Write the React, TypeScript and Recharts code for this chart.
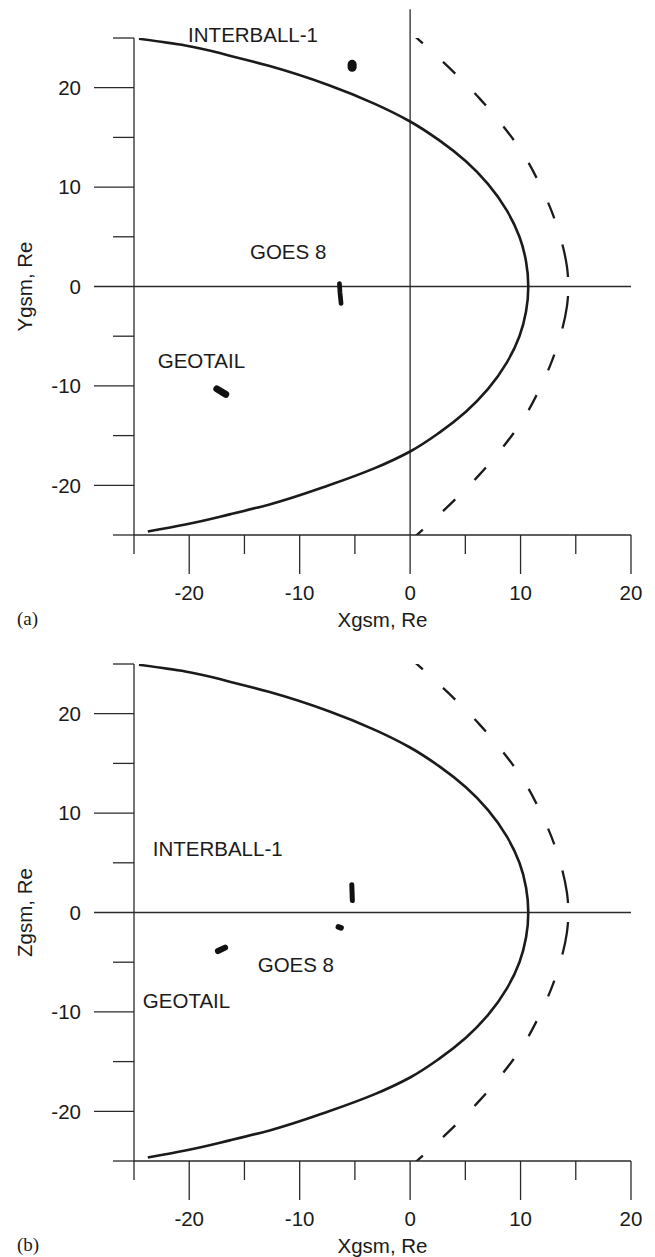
import React from "react";
import { LineChart, Line, XAxis, YAxis, ReferenceLine, ReferenceDot } from "recharts";

// axis ticks (Re)
const X_TICKS = [-25, -20, -15, -10, -5, 0, 5, 10, 15, 20];
const Y_TICKS = [-25, -20, -15, -10, -5, 0, 5, 10, 15, 20, 25];

// magnetopause (solid): bottom-left -> nose -> top-left
const mpX = [-23.75, -20.35, -16.25, -12.8, -7.35, -3.25, 0, 2.65, 5.05, 7.06, 8.78, 9.9, 10.5, 10.7,
  10.5, 9.9, 8.78, 7.06, 5.05, 2.65, 0, -3.25, -7.35, -12.8, -16.25, -20.35, -24.55];
const mpY = [-24.65, -23.95, -22.9, -21.95, -20.0, -18.3, -16.6, -14.7, -12.6, -10.3, -7.6, -5.0, -2.5, 0,
  2.5, 5.0, 7.6, 10.3, 12.6, 14.7, 16.6, 18.4, 20.25, 22.2, 23.2, 24.25, 24.92];

// bow shock (dashed), each half read from the x=0 end towards the nose
const bsUpX = [0, 2.0, 4.2, 6.3, 8.3, 10.1, 11.6, 12.8, 13.7, 14.2, 14.35];
const bsUpY = [25.6, 23.6, 21.3, 18.9, 16.3, 13.6, 10.6, 7.6, 4.6, 2.0, 0];
const bsLoX = [0, 2.0, 4.2, 6.3, 8.3, 10.1, 11.6, 12.8, 13.7, 14.2, 14.35];
const bsLoY = [-25.6, -23.6, -21.3, -18.9, -16.3, -13.6, -10.6, -7.6, -4.6, -2.0, 0];

// spacecraft tracks, panel (a): X-Y plane
const aInterballX = [-5.25, -5.25];
const aInterballY = [22.35, 22.05];
const aGoesX = [-6.4, -6.35, -6.25];
const aGoesY = [0.3, -0.6, -1.7];
const aGeotailX = [-17.5, -16.7];
const aGeotailY = [-10.3, -10.85];

// spacecraft tracks, panel (b): X-Z plane
const bInterballX = [-5.28, -5.23];
const bInterballY = [2.8, 1.2];
const bGoesX = [-6.5, -6.25];
const bGoesY = [-1.45, -1.55];
const bGeotailX = [-17.4, -16.75];
const bGeotailY = [-3.88, -3.53];

// spacecraft names and where they sit (left edge / vertical middle of the text)
const NAMES = ["INTERBALL-1", "GOES 8", "GEOTAIL"];
const aNameX = [-20.1, -14.5, -22.85];
const aNameY = [25.35, 3.5, -7.45];
const bNameX = [-23.3, -13.8, -24.2];
const bNameY = [6.45, -5.25, -8.85];

const INK = "#1b1b1b";
const AXIS = "#2a2a2a";
const FONT = "'Liberation Sans', Arial, Helvetica, sans-serif";
const FS = 20.5;

const rows = (xs: number[], ys: number[]) => xs.map((x, i) => ({ x, y: ys[i] }));

// long dash near the nose, as in the original plot
const BS_DASH = "17 27.3 17 27.3 17 27.3 17 27.3 17 27.3 17 27.3 33 60";

const XTick = (props: any) => {
  const { x, y, payload } = props;
  const v = payload.value;
  const major = v % 10 === 0;
  return (
    <g>
      <line x1={x} x2={x} y1={y} y2={y + (major ? 39 : 19)} stroke={AXIS} strokeWidth={1.3} />
      {major && (
        <text x={x} y={y + 58} dy="0.36em" textAnchor="middle" fontFamily={FONT} fontSize={FS} fill={INK}>
          {v}
        </text>
      )}
    </g>
  );
};

const YTick = (props: any) => {
  const { x, y, payload } = props;
  const v = payload.value;
  const major = v % 10 === 0;
  return (
    <g>
      <line x1={x - (major ? 40 : 21)} x2={x} y1={y} y2={y} stroke={AXIS} strokeWidth={1.3} />
      {major && (
        <text x={x - 53} y={y} dy="0.36em" textAnchor="end" fontFamily={FONT} fontSize={FS} fill={INK}>
          {v}
        </text>
      )}
    </g>
  );
};

const xTitle = (tag: string) => (props: any) => {
  const vb = props.viewBox;
  if (!vb) return null;
  const cy = vb.y + 85;
  return (
    <g>
      <text x={vb.x + vb.width / 2} y={cy} dy="0.36em" textAnchor="middle" fontFamily={FONT} fontSize={FS} fill={INK}>
        Xgsm, Re
      </text>
      <text x={17} y={cy} dy="0.25em" fontFamily="'Liberation Serif', 'Times New Roman', serif" fontSize={19} fill={INK}>
        {tag}
      </text>
    </g>
  );
};

const yTitle = (name: string) => (props: any) => {
  const vb = props.viewBox;
  if (!vb) return null;
  const cx = vb.x + 25;
  const cy = vb.y + vb.height / 2;
  return (
    <text
      x={cx}
      y={cy}
      dy="0.36em"
      textAnchor="middle"
      transform={`rotate(-90, ${cx}, ${cy})`}
      fontFamily={FONT}
      fontSize={FS}
      fill={INK}
    >
      {name}
    </text>
  );
};

const nameShape = (text: string) => (p: any) => (
  <text x={p.cx} y={p.cy} dy="0.36em" fontFamily={FONT} fontSize={FS} fill={INK}>
    {text}
  </text>
);

type Track = { xs: number[]; ys: number[]; w: number };

const Panel = ({
  height,
  xAxisHeight,
  tag,
  yName,
  zeroX,
  tracks,
  nameX,
  nameY,
}: {
  height: number;
  xAxisHeight: number;
  tag: string;
  yName: string;
  zeroX: boolean;
  tracks: Track[];
  nameX: number[];
  nameY: number[];
}) => (
  <LineChart width={655} height={height} margin={{ top: 38, right: 24, left: 0, bottom: 0 }}>
    <XAxis
      type="number"
      dataKey="x"
      domain={[-25, 20]}
      allowDataOverflow
      ticks={X_TICKS}
      interval={0}
      tickSize={0}
      tickMargin={0}
      tickLine={false}
      tick={<XTick />}
      axisLine={{ stroke: AXIS, strokeWidth: 1.3 }}
      height={xAxisHeight}
      label={xTitle(tag)}
    />
    <YAxis
      type="number"
      dataKey="y"
      domain={[-25, 25]}
      allowDataOverflow
      ticks={Y_TICKS}
      interval={0}
      tickSize={0}
      tickMargin={0}
      tickLine={false}
      tick={<YTick />}
      axisLine={{ stroke: AXIS, strokeWidth: 1.3 }}
      width={134}
      label={yTitle(yName)}
    />
    <ReferenceLine y={0} stroke={AXIS} strokeWidth={1.3} />
    {zeroX && (
      <ReferenceLine
        segment={[{ x: 0, y: -25 }, { x: 0, y: 27.9 }]}
        ifOverflow="visible"
        stroke={AXIS}
        strokeWidth={1.3}
      />
    )}
    <Line
      data={rows(mpX, mpY)}
      dataKey="y"
      type="monotoneY"
      stroke={INK}
      strokeWidth={2.6}
      dot={false}
      activeDot={false}
      isAnimationActive={false}
    />
    <Line
      data={rows(bsUpX, bsUpY)}
      dataKey="y"
      type="monotoneY"
      stroke={INK}
      strokeWidth={2.3}
      strokeDasharray={BS_DASH}
      dot={false}
      activeDot={false}
      isAnimationActive={false}
    />
    <Line
      data={rows(bsLoX, bsLoY)}
      dataKey="y"
      type="monotoneY"
      stroke={INK}
      strokeWidth={2.3}
      strokeDasharray={BS_DASH}
      dot={false}
      activeDot={false}
      isAnimationActive={false}
    />
    {tracks.map((t, i) => (
      <Line
        key={i}
        data={rows(t.xs, t.ys)}
        dataKey="y"
        type="linear"
        stroke="#111"
        strokeWidth={t.w}
        strokeLinecap="round"
        dot={false}
        activeDot={false}
        isAnimationActive={false}
      />
    ))}
    {NAMES.map((n, i) => (
      <ReferenceDot key={n} x={nameX[i]} y={nameY[i]} r={0} ifOverflow="visible" shape={nameShape(n)} />
    ))}
  </LineChart>
);

export default function App() {
  return (
    <div style={{ position: "absolute", left: 0, top: 0, width: 655, height: 1257, background: "#fff" }}>
      <div style={{ position: "absolute", left: 0, top: 0 }}>
        <Panel
          height={640}
          xAxisHeight={105}
          tag="(a)"
          yName="Ygsm, Re"
          zeroX
          tracks={[
            { xs: aInterballX, ys: aInterballY, w: 9 },
            { xs: aGoesX, ys: aGoesY, w: 4.7 },
            { xs: aGeotailX, ys: aGeotailY, w: 7 },
          ]}
          nameX={aNameX}
          nameY={aNameY}
        />
      </div>
      <div style={{ position: "absolute", left: 0, top: 626 }}>
        <Panel
          height={631}
          xAxisHeight={96}
          tag="(b)"
          yName="Zgsm, Re"
          zeroX={false}
          tracks={[
            { xs: bInterballX, ys: bInterballY, w: 5 },
            { xs: bGoesX, ys: bGoesY, w: 5.5 },
            { xs: bGeotailX, ys: bGeotailY, w: 6 },
          ]}
          nameX={bNameX}
          nameY={bNameY}
        />
      </div>
    </div>
  );
}
